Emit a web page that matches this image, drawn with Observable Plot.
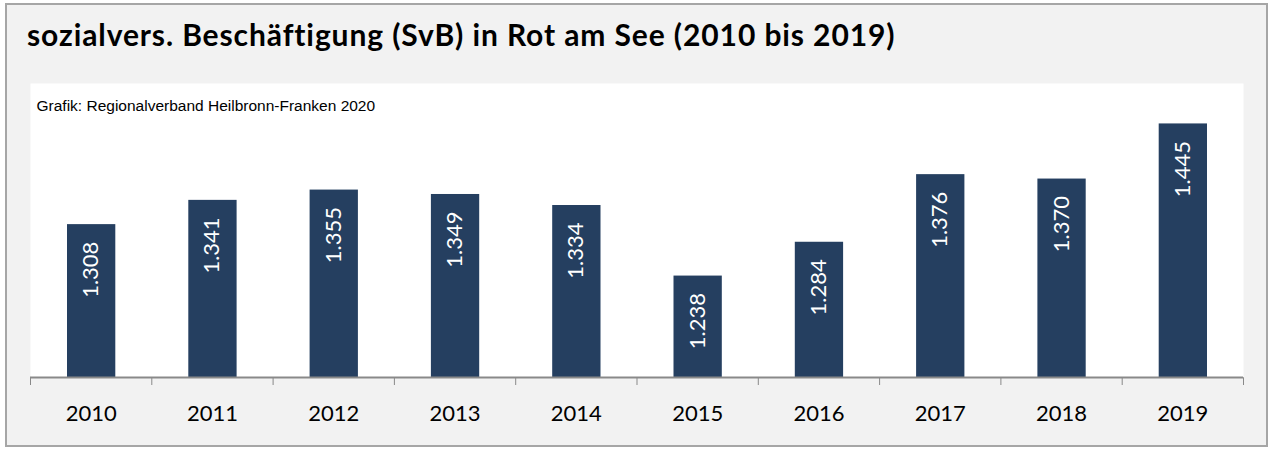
<!DOCTYPE html>
<html>
<head>
<meta charset="utf-8">
<script src="https://cdn.jsdelivr.net/npm/d3@7"></script>
<script src="https://cdn.jsdelivr.net/npm/@observablehq/plot@0.6"></script>
<style>
  html, body { margin: 0; padding: 0; background: #ffffff; }
  #frame {
    position: absolute; left: 5px; top: 3px; width: 1259px; height: 440px;
    background: #f2f2f2; border: 2px solid #a6a6a6;
  }
  #title {
    position: absolute; left: 20px; top: 11px;
    font-family: Lato, sans-serif; font-weight: bold; font-size: 30px; letter-spacing: 0.9px;
    line-height: 1.2; color: #000; white-space: nowrap;
  }
  #chart { position: absolute; left: 21px; top: 78px; }
</style>
</head>
<body>
<div id="frame">
  <div id="title">sozialvers. Beschäftigung (SvB) in Rot am See (2010 bis 2019)</div>
  <div id="chart"></div>
</div>
<script>
const years = ["2010","2011","2012","2013","2014","2015","2016","2017","2018","2019"];
const values = [1308, 1341, 1355, 1349, 1334, 1238, 1284, 1376, 1370, 1445];
const subtitle = "Grafik: Regionalverband Heilbronn-Franken 2020";
const yDomain = [1100, 1500];

const data = years.map((y, i) => ({year: y, i, value: values[i]}));
const bounds = d3.range(years.length + 1);
const fmt = v => String(v).replace(/\B(?=(\d{3})+(?!\d))/g, ".");

const chart = Plot.plot({
  width: 1217,
  height: 362,
  marginLeft: 2,
  marginRight: 2,
  marginTop: 0,
  marginBottom: 68,
  style: {background: "transparent", color: "#898989", overflow: "visible"},
  x: {domain: [0, years.length], ticks: bounds, tickSize: 8, tickFormat: () => "", label: null},
  y: {domain: yDomain, axis: null},
  marks: [
    Plot.frame({fill: "white", stroke: "none"}),
    Plot.text([subtitle], {frameAnchor: "top-left", dx: 6, dy: 27, lineAnchor: "bottom", textAnchor: "start",
      fill: "#000", fontFamily: "Liberation Sans, Arial, sans-serif", fontSize: 15.5}),
    Plot.rectY(data, {x1: d => d.i, x2: d => d.i + 1, y1: yDomain[0], y2: "value",
      fill: "#253f60", insetLeft: 37, insetRight: 36}),
    Plot.ruleY([yDomain[0]], {stroke: "#898989", strokeWidth: 2}),
    Plot.text(data, {x: d => d.i + 0.5, y: "value", text: d => fmt(d.value), rotate: -90,
      textAnchor: "end", lineAnchor: "middle", dy: 17, fill: "white",
      fontFamily: "Lato, sans-serif", fontSize: 22}),
    Plot.text(data, {x: d => d.i + 0.5, y: yDomain[0], text: "year", dy: 43, lineAnchor: "bottom",
      fill: "#000", fontFamily: "Lato, sans-serif", fontSize: 22})
  ]
});
document.getElementById("chart").appendChild(chart);
</script>
</body>
</html>
